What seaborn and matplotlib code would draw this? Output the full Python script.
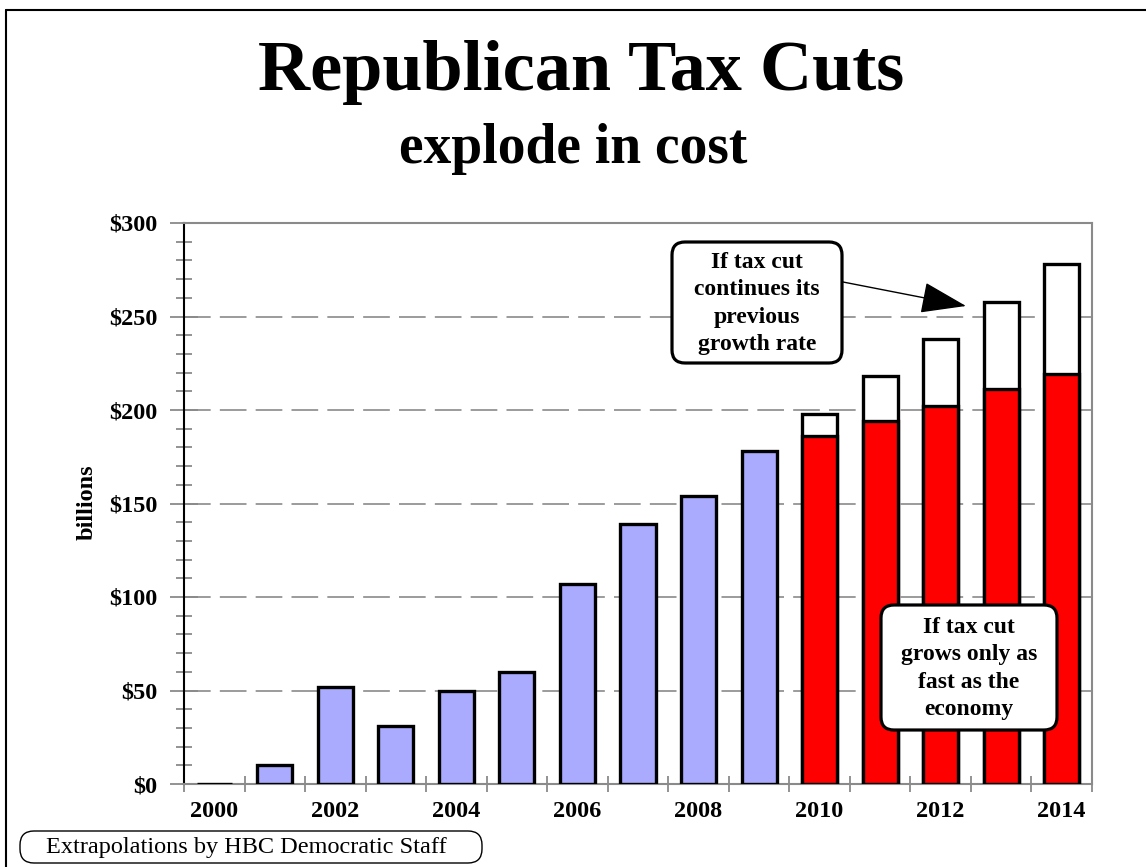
import matplotlib
matplotlib.use("Agg")
import matplotlib.pyplot as plt
import seaborn as sns
from matplotlib.patches import FancyBboxPatch, FancyArrowPatch
from matplotlib.lines import Line2D
from matplotlib.ticker import MultipleLocator

# ---- data (billions of dollars) ----
years = [str(y) for y in range(2000, 2015)]
hist_years = years[:10]
hist_cost = [0, 10, 52, 31, 50, 60, 107, 139, 154, 178]
proj_years = years[10:]
proj_trend = [198, 218, 238, 258, 278]      # cost if previous growth rate continues
proj_economy = [186, 194, 202, 211, 219]    # cost if it grows with the economy

y_ticks = [0, 50, 100, 150, 200, 250, 300]
y_labels = ["\\$0", "\\$50", "\\$100", "\\$150", "\\$200", "\\$250", "\\$300"]
x_label_years = years[::2]

sns.set_style("white")
plt.rcParams["font.family"] = ["Liberation Serif", "DejaVu Serif"]
plt.rcParams["text.color"] = "black"
plt.rcParams["axes.labelcolor"] = "black"

W, H = 1146, 867
fig = plt.figure(figsize=(W / 100, H / 100), dpi=100)
fig.patch.set_facecolor("white")


def px(x, y):
    """pixel position (from top-left) -> inches for fig.dpi_scale_trans"""
    return x / 100, (H - y) / 100


ax = fig.add_axes([184 / W, 1 - 784 / H, (1092 - 184) / W, (784 - 223) / H])

GRID = "#8a8a8a"
bar_kw = dict(order=years, edgecolor="black", linewidth=2.4, width=0.58,
              saturation=1, errorbar=None, ax=ax, zorder=3)

sns.barplot(x=hist_years, y=hist_cost, color="#AAAAFF", **bar_kw)
sns.barplot(x=proj_years, y=proj_trend, color="white", **bar_kw)
sns.barplot(x=proj_years, y=proj_economy, color="#FF0000", **bar_kw)

ax.set_xlim(-0.5, len(years) - 0.5)
ax.set_ylim(0, 300)

# dashed horizontal guides
for v in y_ticks[1:-1]:
    ax.axhline(v, color=GRID, lw=1.2, linestyle=(0, (16, 5.5)), zorder=0)

# spines
for side in ["top", "right", "bottom"]:
    ax.spines[side].set_color(GRID)
    ax.spines[side].set_linewidth(1.5)
ax.spines["left"].set_color("black")
ax.spines["left"].set_linewidth(1.5)
for s in ax.spines.values():
    s.set_zorder(2.5)

# y axis ticks
ax.set_yticks(y_ticks, labels=y_labels)
ax.yaxis.set_minor_locator(MultipleLocator(10))
ax.tick_params(axis="y", which="major", left=True, direction="inout", length=20,
               width=1.3, color=GRID, labelcolor="black", pad=9, labelsize=17.5)
ax.tick_params(axis="y", which="minor", left=True, direction="inout", length=12,
               width=1.3, color=GRID)

# x axis: labels on even years, tick marks between bars
ax.set_xticks(range(0, len(years), 2), labels=x_label_years)
ax.set_xticks([i - 0.5 for i in range(len(years) + 1)], minor=True)
ax.tick_params(axis="x", which="major", bottom=True, length=0, pad=12,
               labelsize=17.5, labelcolor="black")
ax.tick_params(axis="x", which="minor", bottom=True, direction="inout", length=11,
               width=1.3, color=GRID)
for lbl in ax.get_xticklabels() + ax.get_yticklabels():
    lbl.set_fontweight("bold")

ax.set_xlabel("")
ax.set_ylabel("billions", fontsize=17.5, fontweight="bold")
ax.yaxis.set_label_coords((98 - 184) / 908, (784 - 502) / 561)

# titles
fig.text(581 / W, 1 - 90 / H, "Republican Tax Cuts", ha="center", va="baseline",
         fontsize=52, fontweight="bold")
fig.text(573 / W, 1 - 163 / H, "explode in cost", ha="center", va="baseline",
         fontsize=40, fontweight="bold")

# callout boxes
def callout(x0, y0, x1, y1, text):
    bx, by = px(x0, y1)
    box = FancyBboxPatch((bx, by), (x1 - x0) / 100, (y1 - y0) / 100,
                         boxstyle="round,pad=0,rounding_size=0.13",
                         transform=fig.dpi_scale_trans, facecolor="white",
                         edgecolor="black", linewidth=2.3, zorder=5)
    fig.add_artist(box)
    cx, cy = px((x0 + x1) / 2, (y0 + y1) / 2 + 1)
    fig.text(cx, cy, text, transform=fig.dpi_scale_trans, ha="center",
             va="center", fontsize=17, fontweight="bold", linespacing=1.4,
             zorder=6)


callout(672, 242, 842, 363, "If tax cut\ncontinues its\nprevious\ngrowth rate")
callout(881, 605, 1057, 730, "If tax cut\ngrows only as\nfast as the\neconomy")

arrow = FancyArrowPatch(px(843, 282), px(966, 306),
                        transform=fig.dpi_scale_trans,
                        arrowstyle="-|>,head_length=2.9,head_width=1.0",
                        mutation_scale=10, shrinkA=0, shrinkB=0,
                        color="black", linewidth=1.0, zorder=6)
fig.add_artist(arrow)

# source note
nx, ny = px(20, 863)
note_box = FancyBboxPatch((nx, ny), (482 - 20) / 100, (863 - 831) / 100,
                          boxstyle="round,pad=0,rounding_size=0.14",
                          transform=fig.dpi_scale_trans, facecolor="white",
                          edgecolor="black", linewidth=1.0, zorder=5)
fig.add_artist(note_box)
tx, ty = px(246, 847)
fig.text(tx, ty, "Extrapolations by HBC Democratic Staff",
         transform=fig.dpi_scale_trans, ha="center", va="center",
         fontsize=17.5, zorder=6)

# page frame (top and left edges)
fig.add_artist(Line2D([6 / W, 6 / W], [0, 1 - 10 / H], transform=fig.transFigure,
                      color="black", lw=1.5))
fig.add_artist(Line2D([6 / W, 1], [1 - 10 / H, 1 - 10 / H], transform=fig.transFigure,
                      color="black", lw=1.5))

fig.savefig("out.png", dpi=100, facecolor="white")
